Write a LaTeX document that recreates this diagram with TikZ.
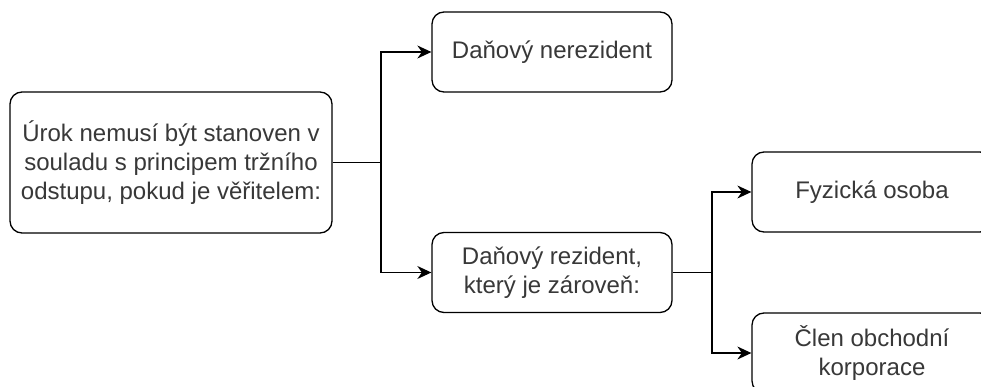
\documentclass[tikz,border=0pt]{standalone}
\usepackage{fontspec}
\setmainfont{Liberation Sans}
\usetikzlibrary{arrows.meta}

\tikzset{
  box/.style={draw=black, line width=1.3pt, rounded corners=12pt, fill=white,
    minimum width=240pt, minimum height=80pt, align=center, text=black!78,
    font=\fontsize{24}{29}\selectfont, inner sep=0pt},
  link/.style={line width=1.3pt, -{Stealth[length=14pt,width=13pt]}},
}

\begin{document}
\begin{tikzpicture}[x=1pt, y=-1pt]
%\draw[help lines] (0,0) grid[step=50] (981,387);
\useasboundingbox (0,0) rectangle (981,387);
\clip (0,0) rectangle (981,387);

 \node[box, minimum width=322pt, minimum height=141pt] (urok) at (171,162.5)
   {Úrok nemusí být stanoven v\\souladu s principem tržního\\odstupu, pokud je věřitelem:};

 \node[box] (nerez) at (552,52) {Daňový nerezident};
 \node[box] (rez) at (552,272.5) {Daňový rezident,\\který je zároveň:};

 \node[box] (fyz) at (872,192) {Fyzická osoba};
 \node[box] (clen) at (872,353) {Člen obchodní\\korporace};

 \coordinate (split1) at (381,162.5);
 \coordinate (split2) at (712,272.5);

 \draw[line width=1.3pt] (urok.east) -- (split1);
 \draw[link] (split1) |- (nerez.west);
 \draw[link] (split1) |- (rez.west);

 \draw[line width=1.3pt] (rez.east) -- (split2);
 \draw[link] (split2) |- (fyz.west);
 \draw[link] (split2) |- (clen.west);

\end{tikzpicture}
\end{document}
